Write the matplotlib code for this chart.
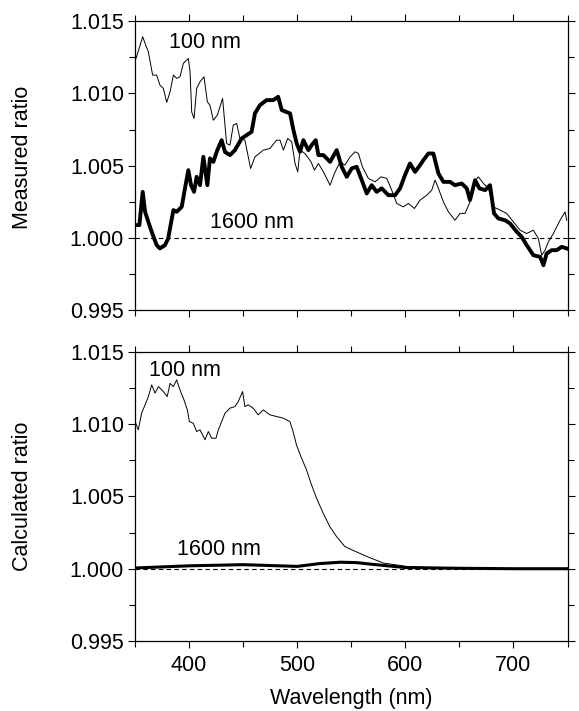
import numpy as np
import matplotlib
matplotlib.use('Agg')
import matplotlib.pyplot as plt
from matplotlib.ticker import MultipleLocator

plt.rcParams['font.family'] = ['Liberation Sans', 'DejaVu Sans']

# measured, 100 nm (thin)
meas_100_wl = [350.9, 357.1, 359.3, 362.3, 366.3, 370, 373, 376.2, 379.3, 382.4, 385.5, 388.5,
               391.6, 394.7, 399.3, 400.9, 402.4, 404.6, 407, 410.1, 413.8, 416.9, 419.3, 422.4,
               426.1, 431, 433.2, 434.7, 437.8, 440.9, 444, 447, 451.6, 453.8, 456.9, 460.9,
               468.6, 474.8, 480.9, 484.1, 487.2, 491.2, 494.9, 498, 500.5, 502.6, 507.2, 512.8,
               515.9, 519.6, 524.2, 530.4, 534.4, 539.6, 544.2, 548.9, 553.5, 556.6, 560.3, 565.8,
               572, 577.5, 582.8, 587.4, 592, 598.2, 602.8, 608.4, 613.6, 619.8, 624.4, 627.5,
               630.6, 635.2, 639.8, 645.9, 650.6, 655.2, 659.8, 662.9, 667.5, 672.2, 676.8, 681.4,
               687.6, 693.7, 699.9, 706.1, 712.2, 718.4, 723, 726.1, 729.2, 732.3, 736.9, 743.1,
               747.7, 749.2]
meas_100 = [1.01242, 1.01392, 1.01346, 1.01288, 1.01127, 1.01127, 1.01058, 1.01035, 1.00938, 1.01011,
            1.01127, 1.01104, 1.01115, 1.01208, 1.01242, 1.0115, 1.00873, 1.00827, 1.01035, 1.01081,
            1.01115, 1.00942, 1.00919, 1.00815, 1.0085, 1.00965, 1.00781, 1.00654, 1.00643, 1.00781,
            1.00793, 1.00689, 1.00677, 1.00596, 1.00481, 1.00562, 1.00608, 1.0062, 1.00677, 1.00677,
            1.00608, 1.00689, 1.00666, 1.00516, 1.00458, 1.00608, 1.00585, 1.00527, 1.0047, 1.00516,
            1.00458, 1.00366, 1.00447, 1.00527, 1.00505, 1.00562, 1.00597, 1.00585, 1.00493, 1.00413,
            1.00389, 1.00424, 1.00413, 1.00332, 1.0024, 1.00216, 1.0024, 1.00205, 1.00263, 1.00297,
            1.00332, 1.00401, 1.00344, 1.00251, 1.00182, 1.00124, 1.00171, 1.00171, 1.00251, 1.00378,
            1.00424, 1.00378, 1.00344, 1.00216, 1.00194, 1.00171, 1.00113, 1.00055, 1.00032, 1.00055,
            0.99998, 0.99882, 0.99917, 0.99975, 1.00032, 1.00124, 1.00182, 1.00124]

# measured, 1600 nm (thick)
meas_1600_wl = [350.9, 354, 357.1, 359.3, 362.3, 365.4, 370, 373, 377.7, 380.7, 382.9, 385.5,
                388.5, 393.2, 396.2, 399.3, 401.8, 404.6, 407, 410.1, 413.2, 416.9, 419.3, 422.4,
                426.1, 430.1, 433.2, 437.8, 442.4, 448.6, 453.2, 457.8, 460.9, 465.5, 471.6, 477.8,
                482.4, 485.7, 493.4, 496.5, 499.5, 502.6, 505.7, 510.3, 513.4, 517.1, 519.6, 524.2,
                530.4, 536.5, 541.2, 545.8, 550.4, 555, 560.3, 564.3, 568.9, 573.5, 578.1, 584.3,
                590.5, 595.1, 599.7, 604.3, 609, 613.6, 616.7, 621.3, 625.9, 630.6, 635.2, 641.3,
                645.9, 652.1, 656.8, 659.8, 664.5, 668.5, 673.7, 678.3, 682, 686, 692.2, 696.8,
                703, 707.6, 712.2, 718.4, 724.6, 727.7, 730.7, 735.4, 740, 744.6, 749.2]
meas_1600 = [1.0009, 1.0009, 1.0032, 1.00182, 1.00113, 1.00044, 0.99952, 0.99929, 0.99952, 0.99998,
             1.0009, 1.00194, 1.00182, 1.00217, 1.00344, 1.0047, 1.00366, 1.0032, 1.00424, 1.00366,
             1.00562, 1.00366, 1.00551, 1.00527, 1.00608, 1.00677, 1.00596, 1.00574, 1.00608, 1.00689,
             1.00712, 1.00735, 1.00862, 1.00919, 1.00954, 1.00954, 1.00977, 1.00885, 1.00862, 1.00747,
             1.00655, 1.00597, 1.00677, 1.00608, 1.00643, 1.00677, 1.00574, 1.00574, 1.00527, 1.00608,
             1.00493, 1.00424, 1.00482, 1.00493, 1.00389, 1.00309, 1.00366, 1.0032, 1.00344, 1.00297,
             1.00297, 1.00344, 1.00436, 1.00516, 1.00458, 1.00505, 1.00539, 1.00585, 1.00585, 1.00447,
             1.00389, 1.00389, 1.00366, 1.00378, 1.00344, 1.00263, 1.00401, 1.00344, 1.00332, 1.00366,
             1.00171, 1.00136, 1.00124, 1.00102, 1.00044, 1.00009, 0.99952, 0.99882, 0.99871, 0.99813,
             0.99894, 0.99917, 0.99917, 0.9994, 0.99929]

# calculated, 100 nm (thin)
calc_100_wl = [350, 353, 356.1, 359.3, 362.3, 365.4, 368.5, 371.6, 376.2, 379.8, 382.4, 385.5,
               388.5, 391.6, 395.3, 398.4, 400.3, 403.9, 407, 410.1, 414.7, 417.8, 420.9, 424.9,
               427.1, 430.1, 433.2, 437.8, 442.4, 445.5, 449.5, 451.6, 454.7, 459.3, 463.9, 468.6,
               474.7, 480.9, 487, 493.2, 496.2, 499.3, 504, 508.6, 513.2, 517.8, 524, 530.1,
               536.3, 544, 550.4, 564.3, 579.7, 601.3, 630, 680, 750]
calc_100 = [1.01018, 1.00961, 1.01076, 1.01134, 1.01191, 1.01272, 1.01215, 1.0126, 1.01226, 1.01191,
            1.01283, 1.0126, 1.01307, 1.01237, 1.01168, 1.01099, 1.01018, 1.01007, 1.00949, 1.00961,
            1.00892, 1.00949, 1.00903, 1.00903, 1.00961, 1.01018, 1.01076, 1.01111, 1.01122, 1.01157,
            1.01226, 1.01122, 1.01134, 1.01111, 1.01065, 1.01099, 1.01065, 1.01053, 1.01042, 1.01018,
            1.00949, 1.00857, 1.00765, 1.00684, 1.00581, 1.00489, 1.00385, 1.00292, 1.00223, 1.00154,
            1.00131, 1.00085, 1.00039, 1.00016, 1.00005, 1.00002, 1.0]

# calculated, 1600 nm (thick)
calc_1600_wl = [350, 400, 450, 500, 520, 540, 555, 570, 600, 650, 700, 750]
calc_1600 = [1.00005, 1.0002, 1.00028, 1.00016, 1.00035, 1.00045, 1.00042, 1.0003, 1.00008,
             1.00003, 1.0, 1.0]

fig = plt.figure(figsize=(5.79, 7.11), dpi=100)
ax1 = fig.add_axes([0.2332, 0.5633, 0.747, 0.407])
ax2 = fig.add_axes([0.2332, 0.0985, 0.747, 0.4065])

fs = 15.5
for ax in (ax1, ax2):
    ax.axhline(1.0, color='k', lw=0.8, ls=(0, (4, 3)))
    ax.set_xlim(350, 750)
    ax.set_ylim(0.995, 1.015)
    ax.xaxis.set_major_locator(MultipleLocator(100))
    ax.xaxis.set_minor_locator(MultipleLocator(50))
    ax.yaxis.set_major_locator(MultipleLocator(0.005))
    ax.yaxis.set_minor_locator(MultipleLocator(0.0025))
    ax.tick_params(which='both', direction='out', top=True, right=True, width=0.8,
                   labelsize=fs, color='k')
    ax.tick_params(which='major', length=5)
    ax.tick_params(which='minor', length=4)
    ax.tick_params(axis='y', pad=3)
    ax.tick_params(axis='x', pad=5)
    ax.yaxis.set_major_formatter(matplotlib.ticker.FormatStrFormatter('%.3f'))
    for s in ax.spines.values():
        s.set_linewidth(0.9)

ax1.plot(meas_100_wl, meas_100, color='k', lw=0.7)
ax1.plot(meas_1600_wl, meas_1600, color='k', lw=2.8)
ax1.set_xticklabels([])
ax1.set_ylabel('Measured ratio', fontsize=fs)
ax1.yaxis.set_label_coords(-0.236, 0.53)
ax1.text(381.4, 1.01355, '100 nm', fontsize=fs, ha='left', va='center')
ax1.text(419.4, 1.00106, '1600 nm', fontsize=fs, ha='left', va='center')

ax2.plot(calc_100_wl, calc_100, color='k', lw=0.7)
ax2.plot(calc_1600_wl, calc_1600, color='k', lw=2.2)
ax2.set_ylabel('Calculated ratio', fontsize=fs)
ax2.yaxis.set_label_coords(-0.236, 0.5)
ax2.set_xlabel('Wavelength (nm)', fontsize=fs)
ax2.xaxis.set_label_coords(0.5, -0.163)
ax2.text(363, 1.01371, '100 nm', fontsize=fs, ha='left', va='center')
ax2.text(388.8, 1.00131, '1600 nm', fontsize=fs, ha='left', va='center')

fig.savefig('out.png', dpi=100)
